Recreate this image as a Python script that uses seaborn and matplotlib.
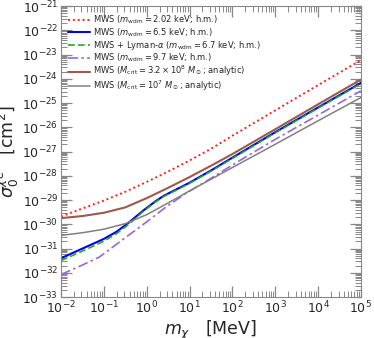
import matplotlib
matplotlib.use("Agg")
import matplotlib.pyplot as plt
import seaborn as sns
import pandas as pd
from matplotlib.ticker import LogLocator, NullFormatter

sns.set_style("ticks")
plt.rcParams['font.family'] = ['DejaVu Sans']
plt.rcParams['mathtext.fontset'] = 'dejavusans'

# ---- data (m_chi in MeV, sigma in cm^2) ----
m_red = [0.01, 0.0316, 0.1, 0.316, 1, 3.16, 10, 31.6, 100, 1e3, 1e4, 1e5]
s_red = [2.1e-30, 4.5e-30, 9.5e-30, 2.2e-29, 5.6e-29, 1.5e-28, 4.3e-28, 1.3e-27, 4.5e-27, 5.0e-26, 5.5e-25, 5.9e-24]

m_blue = [0.01, 0.0316, 0.1, 0.2, 0.4, 0.8, 1.6, 2.5, 5, 10, 31.6, 100, 1e3, 1e4, 1e5]
s_blue = [4.0e-32, 1.0e-31, 2.5e-31, 5.0e-31, 1.26e-30, 3.5e-30, 8.9e-30, 1.5e-29, 2.8e-29, 5.2e-29, 1.66e-28, 5.6e-28, 6.3e-27, 6.6e-26, 6.8e-25]

m_green = [0.01, 0.0316, 0.1, 0.2, 0.4, 0.8, 1.6, 2.5, 5, 10, 31.6, 100, 1e3, 1e4, 1e5]
s_green = [3.2e-32, 7.9e-32, 2.0e-31, 4.2e-31, 1.07e-30, 3.2e-30, 8.3e-30, 1.4e-29, 2.6e-29, 4.9e-29, 1.55e-28, 5.2e-28, 5.9e-27, 6.2e-26, 6.3e-25]

m_purple = [0.01, 0.0316, 0.079, 0.316, 1, 2.75, 7.9, 31.6, 100, 1e3, 1e4, 1e5]
s_purple = [8.5e-33, 2.1e-32, 4.5e-32, 2.8e-31, 1.26e-30, 5.0e-30, 1.8e-29, 7.9e-29, 2.8e-28, 3.2e-27, 3.2e-26, 3.2e-25]

m_brown = [0.01, 0.0316, 0.1, 0.316, 1, 3.16, 10, 31.6, 100, 1e3, 1e4, 1e5]
s_brown = [1.8e-30, 2.2e-30, 3.0e-30, 5.0e-30, 1.2e-29, 3.2e-29, 8.9e-29, 2.6e-28, 7.9e-28, 8.3e-27, 8.9e-26, 9.3e-25]

m_gray = [0.01, 0.0316, 0.1, 0.316, 1, 3.16, 10, 31.6, 100, 1e3, 1e4, 1e5]
s_gray = [3.5e-31, 4.5e-31, 6.3e-31, 1.07e-30, 2.5e-30, 7.6e-30, 2.4e-29, 7.2e-29, 2.2e-28, 2.0e-27, 1.86e-26, 1.7e-25]

labels = [
    r'MWS ($m_{\rm wdm} = 2.02$ keV; h.m.)',
    r'MWS ($m_{\rm wdm} = 6.5$ keV; h.m.)',
    r'MWS + Lyman-$\alpha$ ($m_{\rm wdm} = 6.7$ keV; h.m.)',
    r'MWS ($m_{\rm wdm} = 9.7$ keV; h.m.)',
    r'MWS ($M_{\rm crit} = 3.2 \times 10^8\ M_\odot$; analytic)',
    r'MWS ($M_{\rm crit} = 10^7\ M_\odot$; analytic)',
]

series = [
    (m_red, s_red, '#ff2020', (0, (1, 1.5)), 1.4),
    (m_blue, s_blue, '#0000ee', '-', 1.5),
    (m_green, s_green, '#22aa22', (0, (4, 2)), 1.2),
    (m_purple, s_purple, '#9966dd', (0, (6, 2, 1.5, 2)), 1.2),
    (m_brown, s_brown, '#9b5a4c', '-', 1.5),
    (m_gray, s_gray, '#808080', '-', 1.1),
]

fig = plt.figure(figsize=(3.74, 3.38), dpi=100)
ax = fig.add_axes([0.163, 0.121, 0.802, 0.861])

for (m, s, c, ls, lw), lab in zip(series, labels):
    df = pd.DataFrame({'m': m, 's': s})
    sns.lineplot(data=df, x='m', y='s', ax=ax, color=c, linestyle=ls, linewidth=lw, label=lab)

ax.set_xscale('log')
ax.set_yscale('log')
ax.set_xlim(1e-2, 1e5)
ax.set_ylim(1e-33, 1e-21)

ax.yaxis.set_major_locator(LogLocator(base=10, numticks=20))
ax.yaxis.set_minor_locator(LogLocator(base=10, subs=range(2, 10), numticks=200))
ax.yaxis.set_minor_formatter(NullFormatter())
ax.xaxis.set_major_locator(LogLocator(base=10, numticks=20))
ax.xaxis.set_minor_locator(LogLocator(base=10, subs=range(2, 10), numticks=200))
ax.xaxis.set_minor_formatter(NullFormatter())

ax.tick_params(which='both', direction='in', top=True, right=True, color='#888888')
ax.tick_params(which='major', length=8, width=0.9, labelsize=9, pad=2)
ax.tick_params(which='minor', length=4, width=0.7)
for sp in ax.spines.values():
    sp.set_color('#888888')

ax.set_xlabel(r'$m_\chi$   [MeV]', fontsize=12.5, labelpad=2)
ax.set_ylabel(r'$\sigma_0^{\chi e}$   [cm$^2$]', fontsize=12.5, labelpad=1)

ax.legend(loc='upper left', frameon=False, fontsize=6.0, handlelength=2.6,
          handletextpad=0.3, labelspacing=0.0, borderaxespad=0.5)

fig.savefig('out.png', dpi=100)
